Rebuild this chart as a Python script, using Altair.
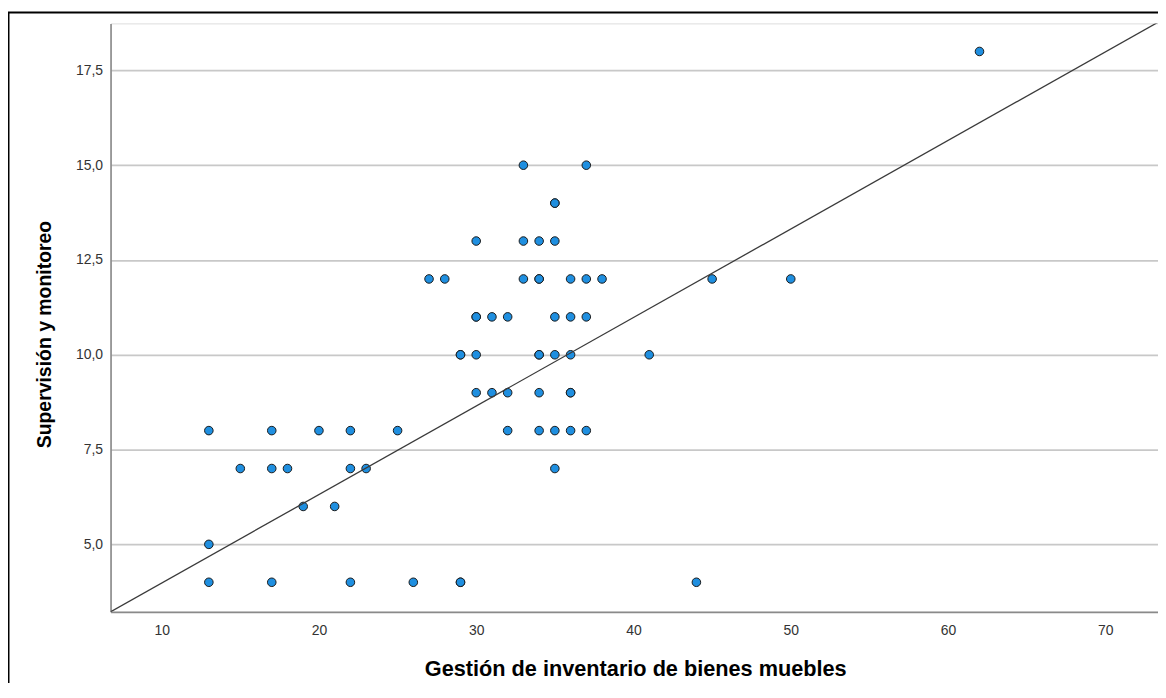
import altair as alt
import pandas as pd

# Data
gestion = [62,
           33, 37,
           35, 35,
           30, 33, 34, 35,
           27, 28, 33, 34, 34, 36, 37, 38, 45, 50,
           30, 30, 31, 32, 35, 36, 37,
           29, 29, 30, 34, 34, 35, 36, 41,
           30, 31, 32, 34, 36, 36,
           13, 17, 20, 22, 25, 32, 34, 35, 36, 37,
           15, 17, 18, 22, 23, 35,
           19, 21,
           13,
           13, 17, 22, 26, 29, 29, 44]
supervision = [18,
               15, 15,
               14, 14,
               13, 13, 13, 13,
               12, 12, 12, 12, 12, 12, 12, 12, 12, 12,
               11, 11, 11, 11, 11, 11, 11,
               10, 10, 10, 10, 10, 10, 10, 10,
               9, 9, 9, 9, 9, 9,
               8, 8, 8, 8, 8, 8, 8, 8, 8, 8,
               7, 7, 7, 7, 7, 7,
               6, 6,
               5,
               4, 4, 4, 4, 4, 4, 4]

# Fit line end points
fit_x = [6.75, 73.35]
fit_y = [3.22, 18.77]

x_ticks = [10, 20, 30, 40, 50, 60, 70]
y_ticks = [5.0, 7.5, 10.0, 12.5, 15.0, 17.5]
x_domain = [6.75, 73.35]
y_domain = [3.22, 18.74]

W, H = 1052, 591
FONT = "Liberation Sans"

pts = pd.DataFrame({"x": gestion, "y": supervision})
fit = pd.DataFrame({"x": fit_x, "y": fit_y})

xscale = alt.Scale(domain=x_domain, nice=False, zero=False)
yscale = alt.Scale(domain=y_domain, nice=False, zero=False)

x_axis = alt.Axis(values=x_ticks, grid=False, ticks=False, domainColor="#8a8a8a",
                  domainWidth=1.6, labelFont=FONT, labelFontSize=14, labelColor="#333333",
                  labelPadding=12, title="Gestión de inventario de bienes muebles",
                  titleFont=FONT, titleFontSize=21.8, titleFontWeight="bold", titleColor="#000000",
                  titleX=527, titleY=64, titleAlign="center", titleBaseline="alphabetic")
y_axis = alt.Axis(values=y_ticks, grid=True, gridColor="#c8c8c8", gridWidth=1.7, ticks=False,
                  domainColor="#8a8a8a", domainWidth=1.6, labelFont=FONT, labelFontSize=14,
                  labelColor="#333333", labelPadding=8,
                  labelExpr="replace(format(datum.value, '.1f'), '.', ',')",
                  title="Supervisión y monitoreo", titleFont=FONT, titleFontSize=19.5,
                  titleFontWeight="bold", titleColor="#000000", titleAngle=270,
                  titleX=-60, titleY=312, titleAlign="center", titleBaseline="alphabetic")

frame = alt.Chart(alt.Data(values=[{}])).mark_rect(
    fill=None, stroke="#000000", strokeWidth=2, clip=False
).encode(x=alt.value(-102.5), x2=alt.value(W + 40), y=alt.value(-11), y2=alt.value(H + 200))

points = alt.Chart(pts).mark_point(
    shape="circle", filled=True, fill="#1f8fe0", stroke="#1a1a1a", strokeWidth=1,
    size=74, opacity=1
).encode(
    x=alt.X("x:Q", scale=xscale, axis=x_axis),
    y=alt.Y("y:Q", scale=yscale, axis=y_axis),
)

line = alt.Chart(fit).mark_line(color="#3a3a3a", strokeWidth=1.3, clip=True).encode(
    x=alt.X("x:Q", scale=xscale),
    y=alt.Y("y:Q", scale=yscale),
)

chart = alt.layer(points, line, frame).properties(
    width=W, height=H,
    autosize=alt.AutoSizeParams(type="none"),
    padding={"left": 103, "top": 14, "right": 0, "bottom": 70},
).configure_view(stroke=None).configure(background="white")

chart.save("out.html", embed_options={"renderer": "svg", "actions": False})
